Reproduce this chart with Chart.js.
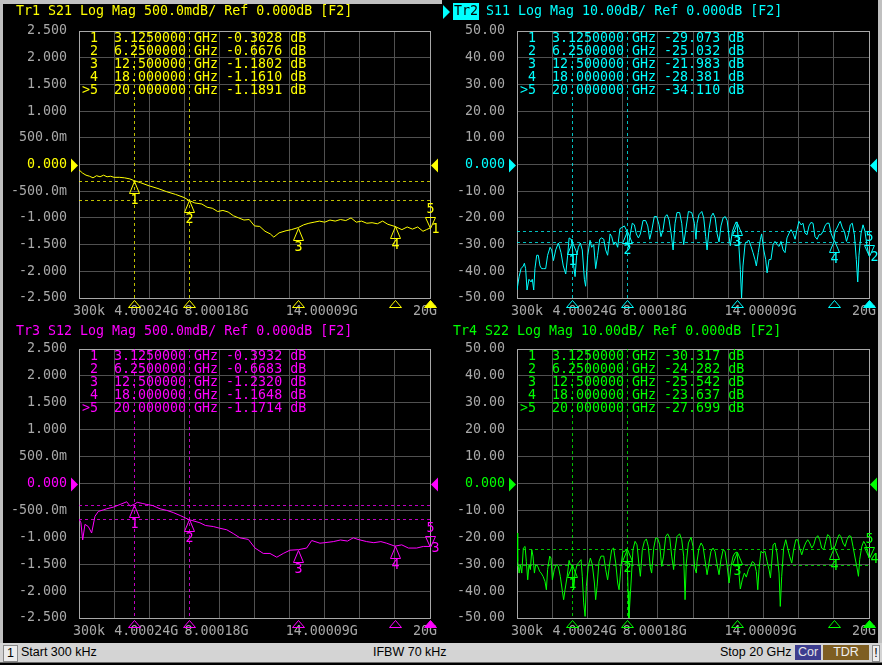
<!DOCTYPE html>
<html>
<head>
<meta charset="utf-8">
<script src="https://cdn.jsdelivr.net/npm/chart.js@4.4.1/dist/chart.umd.min.js"></script>
<style>
html, body { margin: 0; padding: 0; background: #000; }
body { width: 882px; height: 665px; position: relative; overflow: hidden; }
canvas { position: absolute; }
#c1 { left: 0; top: 0; }
#c2 { left: 440px; top: 0; }
#c3 { left: 0; top: 320px; }
#c4 { left: 440px; top: 320px; }
.edge { position: absolute; background: #c0c0c0; }
#status { position: absolute; left: 0; top: 643px; width: 882px; height: 19px; background: #d4d4d4;
  border-bottom: 1px solid #6a6a6a; font: 12.5px "Liberation Sans", Arial, sans-serif; color: #000; }
#status span { position: absolute; top: 2px; height: 15px; line-height: 15px; white-space: nowrap; }
#status .b { text-align: center; }
</style>
</head>
<body>
<div class="edge" style="left:0;top:0;width:3px;height:643px"></div>
<div class="edge" style="left:0;top:0;width:442px;height:4px"></div>
<canvas id="c1" width="448" height="322"></canvas>
<canvas id="c2" width="447" height="322"></canvas>
<canvas id="c3" width="448" height="322"></canvas>
<canvas id="c4" width="447" height="322"></canvas>
<div class="edge" style="left:878px;top:0;width:4px;height:643px"></div>
<div id="status">
  <span class="b" style="left:3px;width:13px;background:#ececec;border:1px solid #8a8a8a">1</span>
  <span style="left:21px">Start 300 kHz</span>
  <span style="left:373px">IFBW 70 kHz</span>
  <span style="left:720px">Stop 20 GHz</span>
  <span class="b" style="left:795px;width:26px;background:#3d3d8f;color:#e6e6e6">Cor</span>
  <span class="b" style="left:823px;width:46px;background:#7e5e22;color:#f0f0f0">TDR</span>
  <span class="b" style="left:872px;width:6px;background:#ececec;border:1px solid #8a8a8a">!</span>
</div>
<script>
// sweep and axis text
const startGHz = 0.0003, stopGHz = 20;
const xTickLabels = ['300k', '', '4.00024G', '', '8.00018G', '', '', '14.00009G', '', '', '20G'];
const halfDbTicks = ['2.500', '2.000', '1.500', '1.000', '500.0m', '0.000', '-500.0m', '-1.000', '-1.500', '-2.000', '-2.500'];
const tenDbTicks = ['50.00', '40.00', '30.00', '20.00', '10.00', '0.000', '-10.00', '-20.00', '-30.00', '-40.00', '-50.00'];

// markers
const markerFreq = [3.125, 6.25, 12.5, 18, 20];
const markerFreqText = ['3.1250000', '6.2500000', '12.500000', '18.000000', '20.000000'];
const s21Markers = [-0.3028, -0.6676, -1.1802, -1.1610, -1.1891];
const s11Markers = [-29.073, -25.032, -21.983, -28.381, -34.110];
const s12Markers = [-0.3932, -0.6683, -1.2320, -1.1648, -1.1714];
const s22Markers = [-30.317, -24.282, -25.542, -23.637, -27.699];

// traces (GHz / dB)
const s21Freq = [0.0003,0.2,0.4,0.6,0.8,1.0,1.2,1.4,1.6,1.8,
  2.0,2.3,2.6,2.9,3.125,3.5,4.0,4.5,5.0,5.5,
  6.0,6.25,6.6,7.0,7.3,7.6,7.9,8.2,8.5,8.8,
  9.1,9.4,9.7,10.0,10.3,10.6,10.9,11.1,11.4,11.8,
  12.1,12.5,12.8,13.1,13.4,13.7,14.0,14.3,14.6,14.9,
  15.2,15.5,15.8,16.1,16.4,16.7,17.0,17.3,17.6,18.0,
  18.4,18.7,19.0,19.3,19.6,19.8,20.0];
const s21Mag = [-0.10,-0.16,-0.20,-0.22,-0.25,-0.21,-0.23,-0.20,-0.23,-0.22,
  -0.24,-0.24,-0.25,-0.27,-0.30,-0.34,-0.40,-0.45,-0.51,-0.56,
  -0.62,-0.67,-0.72,-0.74,-0.80,-0.82,-0.88,-0.86,-0.89,-0.96,
  -1.00,-1.04,-1.03,-1.15,-1.16,-1.25,-1.30,-1.36,-1.28,-1.24,
  -1.22,-1.18,-1.13,-1.10,-1.08,-1.06,-1.08,-1.04,-1.06,-1.03,
  -1.05,-1.00,-1.08,-1.06,-1.10,-1.09,-1.11,-1.06,-1.12,-1.16,
  -1.22,-1.17,-1.21,-1.17,-1.25,-1.22,-1.19];

const s12Freq = [0.0003,0.11,0.21,0.34,0.53,0.72,0.91,1.10,1.38,1.58,
  1.95,2.34,2.72,2.91,3.125,3.32,3.6,3.86,4.2,4.62,
  5.0,5.37,5.8,6.25,6.89,7.2,7.65,8.0,8.42,8.79,
  9.17,9.65,10.03,10.5,10.88,11.27,11.64,12.02,12.5,12.97,
  13.26,13.73,14.0,14.49,14.9,15.3,15.63,15.9,16.39,16.8,
  17.2,17.53,18.0,18.39,18.77,19.24,19.62,20.0];
const s12Mag = [-0.66,-0.73,-1.05,-0.76,-0.80,-0.92,-0.61,-0.52,-0.49,-0.47,
  -0.44,-0.39,-0.34,-0.42,-0.39,-0.35,-0.37,-0.39,-0.41,-0.47,
  -0.50,-0.54,-0.60,-0.67,-0.73,-0.78,-0.80,-0.83,-0.86,-0.93,
  -1.01,-1.04,-1.20,-1.30,-1.30,-1.37,-1.30,-1.24,-1.23,-1.20,
  -1.06,-1.11,-1.10,-1.08,-1.05,-1.07,-1.01,-1.04,-1.08,-1.10,
  -1.08,-1.11,-1.165,-1.14,-1.20,-1.20,-1.17,-1.17];

const s11Freq = [0.0003,0.12,0.23,0.36,0.42,0.49,0.57,0.68,0.80,0.87,
  0.95,1.02,1.12,1.21,1.31,1.40,1.50,1.63,1.74,1.88,
  1.97,2.07,2.20,2.35,2.50,2.63,2.77,2.88,2.96,3.07,
  3.125,3.22,3.30,3.39,3.49,3.60,3.71,3.83,3.90,4.02,
  4.15,4.24,4.36,4.47,4.58,4.70,4.81,4.93,5.04,5.15,
  5.29,5.38,5.49,5.61,5.72,5.85,5.99,6.10,6.25,6.33,
  6.44,6.55,6.67,6.78,6.90,7.01,7.16,7.31,7.43,7.54,
  7.65,7.80,7.94,8.07,8.18,8.30,8.41,8.53,8.64,8.76,
  8.87,8.98,9.09,9.24,9.36,9.47,9.59,9.74,9.93,10.08,
  10.17,10.23,10.34,10.50,10.61,10.72,10.80,10.91,11.03,11.14,
  11.26,11.37,11.48,11.59,11.71,11.83,11.94,12.05,12.12,12.24,
  12.35,12.45,12.5,12.61,12.69,12.76,12.84,12.96,13.07,13.18,
  13.30,13.41,13.52,13.60,13.71,13.83,13.90,14.02,14.13,14.21,
  14.32,14.43,14.55,14.66,14.78,14.89,15.00,15.12,15.23,15.34,
  15.46,15.57,15.68,15.80,15.91,16.02,16.14,16.25,16.36,16.48,
  16.59,16.70,16.82,16.93,17.05,17.16,17.27,17.39,17.50,17.61,
  17.73,17.84,18.0,18.07,18.18,18.30,18.37,18.49,18.60,18.72,
  18.83,18.94,19.05,19.17,19.28,19.36,19.43,19.55,19.66,19.77,
  19.89,20.0];
const s11Mag = [-47,-42,-39,-38,-37,-39,-47,-43,-44,-43,
  -47,-39,-34,-34,-38,-39,-39,-39,-34,-31,
  -32,-36,-32,-29.4,-33,-38,-41,-34,-27.5,-28,
  -29.1,-38,-42,-34,-31,-29.4,-32,-43,-45.6,-34,
  -28.4,-31,-30,-39,-34,-28,-27.5,-28,-32,-34,
  -26,-27,-30,-29,-31,-24,-23.5,-23,-25.0,-31,
  -26,-22,-22.6,-26,-27.5,-26,-21,-21,-23,-28,
  -25,-19.5,-19.5,-22.6,-27,-24.4,-19.5,-18.8,-20.7,-26,
  -32,-22,-18,-18,-22,-30,-24.4,-17.6,-18,-22,
  -28,-22,-18.8,-17.6,-20,-27,-32,-24.4,-19.5,-18.2,
  -20,-26,-29,-23,-20,-19.5,-21,-27,-30.4,-25,
  -23,-21.5,-22.0,-30.7,-39.4,-50,-38,-29.7,-28.8,-28.4,
  -30.7,-33,-35.6,-38,-33,-28,-26,-32,-35.6,-40.6,
  -35.6,-35.6,-30,-28.8,-30,-30.7,-28.8,-32,-33,-27.5,
  -25.7,-24.4,-25.7,-28,-24.4,-21.3,-22.6,-22,-25.7,-26.3,
  -23,-21.7,-22,-27,-28,-26.3,-26.3,-25,-23,-22,
  -22,-25.7,-28.4,-25,-23.8,-22,-21.3,-23.8,-25,-28.8,
  -26.3,-22.6,-22,-26.3,-35.6,-44,-34,-25.7,-22.6,-25,
  -30.7,-34.1];

const s22Freq = [0.0003,0.04,0.12,0.19,0.27,0.36,0.46,0.53,0.61,0.68,
  0.76,0.84,0.91,0.99,1.06,1.18,1.29,1.37,1.48,1.59,
  1.67,1.74,1.86,1.93,2.01,2.12,2.24,2.35,2.46,2.58,
  2.65,2.73,2.85,2.96,3.03,3.125,3.22,3.30,3.41,3.52,
  3.64,3.71,3.79,3.87,3.94,4.05,4.17,4.28,4.40,4.47,
  4.55,4.66,4.77,4.93,5.04,5.15,5.27,5.38,5.49,5.61,
  5.72,5.80,5.91,6.02,6.14,6.25,6.31,6.36,6.48,6.59,
  6.71,6.82,6.93,7.01,7.12,7.24,7.35,7.46,7.58,7.65,
  7.77,7.88,7.99,8.11,8.22,8.33,8.45,8.56,8.68,8.79,
  8.90,8.98,9.09,9.24,9.36,9.47,9.55,9.62,9.74,9.89,
  10.0,10.10,10.19,10.23,10.34,10.46,10.57,10.68,10.80,10.91,
  11.02,11.14,11.25,11.37,11.48,11.59,11.71,11.82,11.93,12.05,
  12.16,12.28,12.39,12.5,12.61,12.69,12.80,12.92,13.03,13.15,
  13.26,13.37,13.49,13.60,13.68,13.75,13.86,13.98,14.09,14.21,
  14.32,14.40,14.47,14.55,14.66,14.77,14.89,14.96,15.04,15.15,
  15.27,15.38,15.49,15.61,15.72,15.84,15.95,16.06,16.18,16.29,
  16.40,16.52,16.63,16.75,16.86,16.97,17.09,17.20,17.31,17.43,
  17.54,17.65,17.77,17.88,18.0,18.07,18.18,18.30,18.41,18.52,
  18.64,18.75,18.87,18.98,19.09,19.21,19.32,19.40,19.47,19.59,
  19.70,19.81,19.93,20.0];
const s22Mag = [-18.4,-29,-33.3,-30.2,-33.3,-24,-23.4,-29,-35.8,-30.2,
  -32,-24.6,-27,-33.3,-30.2,-30.8,-32.7,-33.3,-34.5,-36.4,
  -39.5,-32,-27,-27.7,-35.8,-32,-30.2,-30.8,-34.5,-40.1,
  -43.2,-39.5,-34.5,-28.6,-30.2,-30.3,-39.5,-33.3,-30.2,-29.3,
  -28.3,-34.5,-44.4,-49.4,-38.2,-30.8,-27.7,-30.2,-37,-43.2,
  -38.2,-29,-27,-27,-32,-35.8,-29.6,-24.6,-24,-29.6,
  -37,-39.5,-30.8,-25.2,-25.2,-24.3,-40,-50,-37,-24.6,
  -21.5,-22.8,-30.2,-34.5,-24.6,-21.5,-20.6,-23.4,-31.4,-33.3,
  -24,-20.3,-20.3,-22.8,-30.8,-27,-19.7,-18.7,-20.3,-27,
  -32,-24.6,-19.7,-18.7,-20.9,-27,-43.2,-29.6,-22.1,-20,
  -23.4,-31.4,-33.3,-29,-24,-22.1,-23.4,-28.3,-33.9,-29.6,
  -25.2,-24,-25.2,-30.2,-33.9,-28.3,-24.6,-25.2,-30.2,-37,
  -30.8,-27,-25.8,-25.5,-33.3,-39.2,-35.8,-33.3,-34.8,-32,
  -30.8,-29,-29.6,-32.7,-39.5,-32,-25.2,-25.8,-25.2,-29,
  -32,-35.1,-29.6,-22.8,-22.1,-25.8,-33.3,-45.7,-34.5,-24,
  -20.9,-24,-27,-29.6,-24.6,-20.9,-20.9,-24,-26.5,-24,
  -22.1,-20.9,-22.1,-24,-22.8,-20.3,-19.4,-20.9,-24,-24.6,
  -21.5,-19,-19.7,-24.6,-23.6,-23.4,-20.9,-19,-19.7,-22.1,
  -23.4,-20.9,-19.4,-19.7,-23.4,-27.7,-31.4,-34.5,-28.3,-23.4,
  -21.5,-22.8,-25.2,-27.7];

const MONO = '13.3px "DejaVu Sans Mono", monospace';
const GRID = '#505050', FRAME = '#a8a8a8', LABEL = '#a8a8a8';

const panels = [
  { id: 'c1', title: 'Tr1 S21 Log Mag 500.0mdB/ Ref 0.000dB [F2]', freq: s21Freq, mag: s21Mag,
    markers: s21Markers, ticks: halfDbTicks, div: 0.5, digits: 4, color: '#ffff00', dash: 'rgba(255,255,0,0.75)',
    traceNo: '1', active: false, titleX: 16, padTop: 31, yWidth: 79, padRight: 18 },
  { id: 'c2', title: 'Tr2 S11 Log Mag 10.00dB/ Ref 0.000dB [F2]', freq: s11Freq, mag: s11Mag,
    markers: s11Markers, ticks: tenDbTicks, div: 10, digits: 3, color: '#00ffff', dash: 'rgba(0,255,255,0.75)',
    traceNo: '2', active: true, titleX: 14, padTop: 31, yWidth: 77, padRight: 18 },
  { id: 'c3', title: 'Tr3 S12 Log Mag 500.0mdB/ Ref 0.000dB [F2]', freq: s12Freq, mag: s12Mag,
    markers: s12Markers, ticks: halfDbTicks, div: 0.5, digits: 4, color: '#ff00ff', dash: 'rgba(255,0,255,0.75)',
    traceNo: '3', active: false, titleX: 16, padTop: 29, yWidth: 79, padRight: 18 },
  { id: 'c4', title: 'Tr4 S22 Log Mag 10.00dB/ Ref 0.000dB [F2]', freq: s22Freq, mag: s22Mag,
    markers: s22Markers, ticks: tenDbTicks, div: 10, digits: 3, color: '#00ff00', dash: 'rgba(0,255,0,0.75)',
    traceNo: '4', active: false, titleX: 13, padTop: 29, yWidth: 77, padRight: 18 }
];

function tri(ctx, x, yTip, h, w, dir, filled) {
  ctx.beginPath();
  ctx.moveTo(x, yTip);
  ctx.lineTo(x - w, yTip + dir * h);
  ctx.lineTo(x + w, yTip + dir * h);
  ctx.closePath();
  if (filled) ctx.fill();
  ctx.stroke();
}

function overlay(p) {
  return {
    id: 'vna_' + p.id,
    beforeDatasetsDraw(chart) {
      const { ctx, chartArea: a, scales: { x, y } } = chart;
      ctx.save();
      ctx.strokeStyle = p.dash;
      ctx.lineWidth = 1;
      ctx.setLineDash([3, 3]);
      for (let i = 0; i < 2; i++) {
        const px = Math.round(x.getPixelForValue(markerFreq[i])) + 0.5;
        const py = Math.round(y.getPixelForValue(p.markers[i])) + 0.5;
        ctx.beginPath();
        ctx.moveTo(px, a.top); ctx.lineTo(px, a.bottom);
        ctx.moveTo(a.left, py); ctx.lineTo(a.right, py);
        ctx.stroke();
      }
      ctx.restore();
    },
    afterDraw(chart) {
      const { ctx, chartArea: a, scales: { x, y } } = chart;
      ctx.save();
      ctx.font = MONO;
      ctx.textBaseline = 'middle';

      // frequency labels under the grid, placed from the x scale ticks
      ctx.fillStyle = LABEL;
      x.ticks.forEach((t, i) => {
        const txt = xTickLabels[i];
        if (!txt) return;
        const w = ctx.measureText(txt).width;
        const px = x.getPixelForValue(t.value);
        let left = px - w / 2 - 3;
        if (i === 0) left = px - 6;
        if (i === xTickLabels.length - 1) left = px + 7 - w;
        ctx.fillText(txt, left, a.bottom + 14);
      });

      ctx.fillStyle = p.color;
      ctx.strokeStyle = p.color;
      ctx.lineWidth = 1;

      // title line
      const tx = p.titleX;
      if (p.active) {
        const head = p.title.slice(0, 3);
        const w = ctx.measureText(head).width;
        ctx.fillRect(tx - 1, 3, w + 2, 17);
        ctx.beginPath();
        ctx.moveTo(tx - 11, 5); ctx.lineTo(tx - 4, 12); ctx.lineTo(tx - 11, 19);
        ctx.closePath(); ctx.fill();
        ctx.fillStyle = '#000';
        ctx.fillText(head, tx, 12);
        ctx.fillStyle = p.color;
        ctx.fillText(p.title.slice(3), tx + w, 12);
      } else {
        ctx.fillText(p.title, tx, 12);
      }

      // marker table
      markerFreqText.forEach((f, i) => {
        const line = (i === 4 ? '>' : ' ') + (i + 1) + '  ' + f + ' GHz ' + p.markers[i].toFixed(p.digits) + ' dB';
        ctx.fillText(line, a.left + 3, a.top + 8 + i * 13);
      });

      // markers on the trace and on the axis
      ctx.textAlign = 'center';
      markerFreq.forEach((f, i) => {
        const px = Math.round(x.getPixelForValue(f)) + 0.5;
        const py = Math.round(y.getPixelForValue(p.markers[i])) + 0.5;
        if (i < 4) {
          tri(ctx, px, py, 12, 5, 1, false);
          ctx.fillText(String(i + 1), px, py + 19);
        } else {
          tri(ctx, px, py, 11, 5, -1, false);
          ctx.fillText('5', px, py - 19);
          ctx.textAlign = 'left';
          ctx.fillText(p.traceNo, px + 1, py + 1);
          ctx.textAlign = 'center';
        }
        tri(ctx, px, a.bottom + 2.5, 7, 6, 1, i === 4);
      });

      // reference level arrows
      const zy = Math.round(y.getPixelForValue(0)) + 0.5;
      ctx.beginPath();
      ctx.moveTo(a.left - 1, zy); ctx.lineTo(a.left - 8, zy - 7); ctx.lineTo(a.left - 8, zy + 7);
      ctx.closePath(); ctx.fill();
      ctx.beginPath();
      ctx.moveTo(a.right + 1, zy); ctx.lineTo(a.right + 8, zy - 7); ctx.lineTo(a.right + 8, zy + 7);
      ctx.closePath(); ctx.fill();
      ctx.restore();
    }
  };
}

function makeChart(p) {
  const range = p.div * 5;
  const canvas = document.getElementById(p.id);
  return new Chart(canvas, {
    type: 'line',
    data: {
      datasets: [{
        data: p.freq.map((f, i) => ({ x: f, y: p.mag[i] })),
        borderColor: p.color,
        borderWidth: 1,
        pointRadius: 0,
        tension: 0,
        fill: false
      }]
    },
    options: {
      responsive: false,
      animation: false,
      events: [],
      layout: { padding: { top: p.padTop, right: p.padRight, bottom: 0, left: 0 } },
      plugins: { legend: { display: false }, tooltip: { enabled: false } },
      scales: {
        x: {
          type: 'linear',
          min: startGHz,
          max: stopGHz,
          afterBuildTicks: s => {
            s.ticks = xTickLabels.map((_, i) => ({ value: startGHz + i * (stopGHz - startGHz) / 10 }));
          },
          afterFit: s => { s.height = canvas.height - 298; },
          grid: { color: c => (c.index === 0 || c.index === 10) ? FRAME : GRID, drawTicks: false },
          border: { color: FRAME },
          ticks: { display: false }
        },
        y: {
          min: -range,
          max: range,
          afterBuildTicks: s => {
            s.ticks = p.ticks.map((_, i) => ({ value: -range + i * p.div }));
          },
          afterFit: s => { s.width = p.yWidth; },
          grid: { color: c => (c.index === 0 || c.index === 10) ? FRAME : GRID, drawTicks: false },
          border: { color: FRAME },
          ticks: {
            color: c => (Math.abs(c.tick.value) < 1e-9 ? p.color : LABEL),
            padding: 12,
            font: { family: 'DejaVu Sans Mono', size: 13.3 },
            callback: v => p.ticks[Math.round((range - v) / p.div)]
          }
        }
      }
    },
    plugins: [overlay(p)]
  });
}

panels.forEach(makeChart);
</script>
</body>
</html>
